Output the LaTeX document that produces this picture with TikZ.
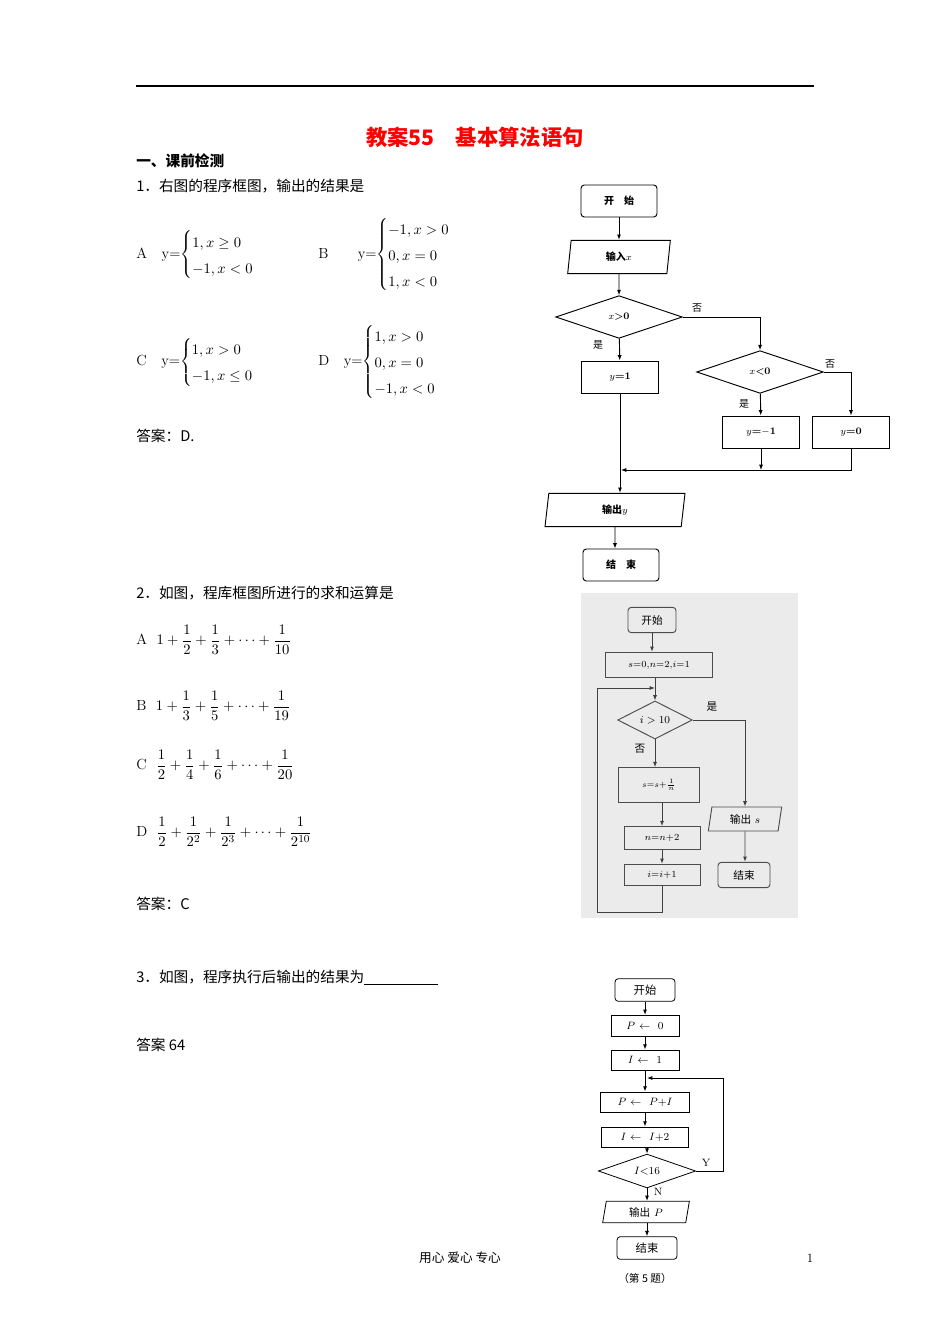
\documentclass[tikz,border=0pt]{standalone}
\usepackage{fontspec}
\newfontfamily\cjk{Noto Sans CJK SC}
\usetikzlibrary{shapes.geometric,arrows.meta}
\begin{document}
\begin{tikzpicture}[x=0.75pt,y=-0.75pt,
  txt/.style={anchor=west,inner sep=0,font=\fontsize{11}{13}\selectfont},
  bx/.style={draw,line width=0.7pt,inner sep=0,font=\fontsize{7.5}{9}\selectfont\bfseries},
  rbx/.style={bx,rounded corners=2.5pt},
  dia/.style={draw,diamond,line width=0.7pt,inner sep=0,font=\fontsize{7.5}{9}\selectfont\bfseries},
  par/.style={draw,trapezium,trapezium left angle=70,trapezium right angle=110,trapezium stretches body,line width=0.7pt,inner sep=0,font=\fontsize{7.5}{9}\selectfont\bfseries},
  arr/.style={line width=0.7pt,-{Latex[length=4pt,width=3pt]}},
  ln/.style={line width=0.7pt},
  lb/.style={inner sep=0,font=\cjk\fontsize{7.5}{9}\selectfont}]
\useasboundingbox (0,0) rectangle (950,1344);
\fill[white] (0,0) rectangle (950,1344);
\draw[line width=0.8pt] (136,86) -- (814,86);
\node[inner sep=0,text=red,font=\cjk\bfseries\fontsize{16}{18}\selectfont] (title) at (475,137) {教案55\quad 基本算法语句};
\node[txt,font=\cjk\bfseries\fontsize{11}{13}\selectfont] (s1) at (136,161) {一、课前检测};
\node[txt,font=\cjk\fontsize{11}{13}\selectfont] (q1) at (136,186) {1．右图的程序框图，输出的结果是};
\def\arraystretch{1.5}
\node[txt] (qa) at (136,255) {A\quad y=$\left\{\begin{array}{@{}l}1,x\geq0\\-1,x<0\end{array}\right.$};
\node[txt] (qb) at (318,255) {B\qquad y=$\left\{\begin{array}{@{}l}-1,x>0\\0,x=0\\1,x<0\end{array}\right.$};
\node[txt] (qc) at (136,362) {C\quad y=$\left\{\begin{array}{@{}l}1,x>0\\-1,x\leq0\end{array}\right.$};
\node[txt] (qd) at (318,362) {D\quad y=$\left\{\begin{array}{@{}l}1,x>0\\0,x=0\\-1,x<0\end{array}\right.$};
\node[txt,font=\cjk\fontsize{11}{13}\selectfont] (ans1) at (136,436) {答案：D.};
\node[txt,font=\cjk\fontsize{11}{13}\selectfont] (q2) at (136,593) {2．如图，程库框图所进行的求和运算是};
\node[txt] (fa) at (136,640) {A\ \ $\displaystyle 1+\frac{1}{2}+\frac{1}{3}+\cdots+\frac{1}{10}$};
\node[txt] (fb) at (136,706) {B\ \ $\displaystyle 1+\frac{1}{3}+\frac{1}{5}+\cdots+\frac{1}{19}$};
\node[txt] (fc) at (136,765) {C\ \ $\displaystyle \frac{1}{2}+\frac{1}{4}+\frac{1}{6}+\cdots+\frac{1}{20}$};
\node[txt] (fd) at (136,832) {D\ \ $\displaystyle \frac{1}{2}+\frac{1}{2^2}+\frac{1}{2^3}+\cdots+\frac{1}{2^{10}}$};
\node[txt,font=\cjk\fontsize{11}{13}\selectfont] (ans2) at (136,904) {答案：C};
\node[txt,font=\cjk\fontsize{11}{13}\selectfont] (q3) at (136,978) {3．如图，程序执行后输出的结果为\underline{\hspace{55pt}}};
\node[txt,font=\cjk\fontsize{11}{13}\selectfont] (ans3) at (136,1045) {答案 64};
\node[inner sep=0,font=\cjk\fontsize{9.5}{11}\selectfont] (foot) at (460,1258) {用心\ 爱心\ 专心};
\node[inner sep=0,font=\fontsize{9.5}{11}\selectfont] (pg) at (810,1258) {1};
% chart 1
\node[rbx,minimum width=57pt,minimum height=24pt,font=\cjk\bfseries\fontsize{7.5}{9}\selectfont] (st) at (619,201) {开\quad 始};
\node[par,minimum width=77pt,minimum height=25pt] (in) at (619,257) {{\cjk 输入}$x$};
\node[dia,minimum width=95pt,minimum height=32pt] (d1) at (619,317) {$x$>0};
\node[bx,minimum width=58pt,minimum height=24pt] (y1) at (620,377) {$y$=1};
\node[dia,minimum width=95pt,minimum height=32pt] (d2) at (760,372) {$x$<0};
\node[bx,minimum width=58pt,minimum height=24pt] (ym) at (761,432) {$y$=$-$1};
\node[bx,minimum width=58pt,minimum height=24pt] (y0) at (851,432) {$y$=0};
\node[par,minimum width=105pt,minimum height=25pt] (out) at (615,510) {{\cjk 输出}$y$};
\node[rbx,minimum width=57pt,minimum height=24pt,font=\cjk\bfseries\fontsize{7.5}{9}\selectfont] (en) at (621,565) {结\quad 束};
\coordinate (M) at (621,470);
\draw[arr] (st) -- (in);
\draw[arr] (in) -- (d1);
\draw[arr] (d1) -- (y1);
\draw[arr] (d1.east) -| (d2.north);
\draw[arr] (d2) -- (ym);
\draw[arr] (d2.east) -| (y0.north);
\draw[arr] (y0.south) |- (M);
\draw[arr] (ym.south) -- (ym.south |- M);
\draw[arr] (y1.south) -- (y1.south |- out.north);
\draw[arr] (out) -- (out.south |- en.north);
\node[lb] (l1) at (697,308) {否};
\node[lb] (l2) at (598,345) {是};
\node[lb] (l3) at (830,364) {否};
\node[lb] (l4) at (744,404) {是};
% chart 2
\fill[black!8] (581,593) rectangle (798,918);
\begin{scope}[every node/.append style={font=\fontsize{8}{10}\selectfont}]
\node[rbx,draw=black!70,minimum width=36pt,minimum height=19pt,font=\cjk\fontsize{8}{10}\selectfont] (b0) at (652,620) {开始};
\node[bx,draw=black!70,minimum width=80pt,minimum height=19pt,font=\fontsize{7}{9}\selectfont] (b1) at (659,665) {$s$=0,$n$=2,$i$=1};
\node[dia,draw=black!70,minimum width=56pt,minimum height=23pt,font=\fontsize{8}{10}\selectfont] (b2) at (655,720) {$i>10$};
\node[bx,draw=black!70,minimum width=61pt,minimum height=26pt,font=\fontsize{6.5}{8}\selectfont] (b3) at (659,785) {$s$=$s$+$\frac{1}{n}$};
\node[bx,draw=black!70,minimum width=57pt,minimum height=17pt,font=\fontsize{7}{9}\selectfont] (b4) at (662,838) {$n$=$n$+2};
\node[bx,draw=black!70,minimum width=57pt,minimum height=16pt,font=\fontsize{7}{9}\selectfont] (b5) at (662,875) {$i$=$i$+1};
\node[par,draw=black!70,minimum width=55pt,minimum height=18pt,font=\fontsize{8}{10}\selectfont] (b6) at (745,819) {{\cjk 输出} $s$};
\node[rbx,draw=black!70,minimum width=39pt,minimum height=19pt,font=\cjk\fontsize{8}{10}\selectfont] (b7) at (744,875) {结束};
\end{scope}
\coordinate (J) at (655,688);
\coordinate (L1) at (597,912);
\coordinate (L2) at (597,688);
\draw[arr,black!75] (b0) -- (b0 |- b1.north);
\draw[arr,black!75] (b1.south -| b2) -- (b2.north);
\draw[arr,black!75] (b2) -- (b2 |- b3.north);
\draw[arr,black!75] (b3.south -| b4) -- (b4.north);
\draw[arr,black!75] (b4) -- (b5);
\draw[arr,black!75] (b2.east) -| (b6.north);
\draw[arr,black!75] (b6) -- (b6 |- b7.north);
\draw[arr,black!75] (b5.south) |- (L1) -- (L2) -- (J);
\node[lb,font=\cjk\fontsize{8}{10}\selectfont] (l5) at (712,707) {是};
\node[lb,font=\cjk\fontsize{8}{10}\selectfont] (l6) at (640,749) {否};
% chart 3
\begin{scope}[every node/.append style={font=\fontsize{8}{10}\selectfont}]
\node[rbx,line width=0.6pt,minimum width=45pt,minimum height=17pt,font=\cjk\fontsize{8.5}{10}\selectfont] (c0) at (645,990) {开始};
\node[bx,line width=0.6pt,minimum width=51pt,minimum height=16pt,font=\fontsize{8}{10}\selectfont] (c1) at (645,1026) {$P$ $\leftarrow$ \ 0};
\node[bx,line width=0.6pt,minimum width=51pt,minimum height=15pt,font=\fontsize{8}{10}\selectfont] (c2) at (645,1060) {$I$ $\leftarrow$ \ 1};
\node[bx,line width=0.6pt,minimum width=67pt,minimum height=15pt,font=\fontsize{8}{10}\selectfont] (c3) at (645,1102) {$P$ $\leftarrow$ \ $P$+$I$};
\node[bx,line width=0.6pt,minimum width=65pt,minimum height=15pt,font=\fontsize{8}{10}\selectfont] (c4) at (645,1137) {$I$ $\leftarrow$ \ $I$+2};
\node[dia,line width=0.6pt,minimum width=73pt,minimum height=18pt,font=\fontsize{8}{10}\selectfont] (c5) at (647,1171) {$I$<16};
\node[par,line width=0.6pt,minimum width=65pt,minimum height=16pt,font=\fontsize{8}{10}\selectfont] (c6) at (646,1212) {{\cjk 输出} $P$};
\node[rbx,line width=0.6pt,minimum width=45pt,minimum height=17pt,font=\cjk\fontsize{8.5}{10}\selectfont] (c7) at (647,1248) {结束};
\end{scope}
\coordinate (K1) at (723,1078);
\coordinate (K2) at (647,1078);
\draw[arr] (c0) -- (c1);
\draw[arr] (c1) -- (c2);
\draw[arr] (c2) -- (c3);
\draw[arr] (c3) -- (c4);
\draw[arr] (c4.south -| c5) -- (c5.north);
\draw[arr] (c5) -- (c5 |- c6.north);
\draw[arr] (c6.south -| c7) -- (c7.north);
\draw[arr] (c5.east) -| (K1) -- (K2);
\node[inner sep=0,font=\fontsize{8}{10}\selectfont] (ly) at (706,1163) {Y};
\node[inner sep=0,font=\fontsize{8}{10}\selectfont] (lnn) at (658,1192) {N};
\node[inner sep=0,font=\cjk\fontsize{8}{10}\selectfont] (cap) at (645,1278) {（第 5 题）};
\end{tikzpicture}
\end{document}
